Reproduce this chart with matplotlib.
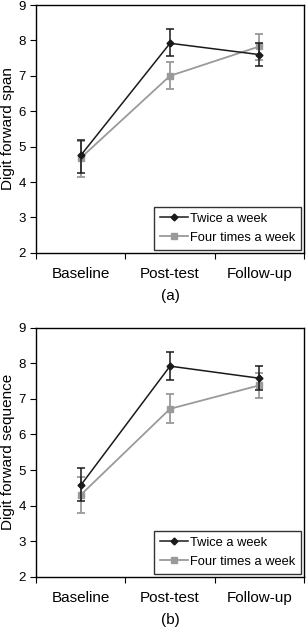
import matplotlib
matplotlib.use('Agg')
import matplotlib.pyplot as plt
from matplotlib.lines import Line2D
import numpy as np

plt.rcParams['font.family'] = ['Liberation Sans', 'DejaVu Sans']

phases = ['Baseline', 'Post-test', 'Follow-up']

# panel (a): digit forward span
span_twice = [4.75, 7.92, 7.60]
span_twice_lo = [4.25, 7.57, 7.27]
span_twice_hi = [5.20, 8.32, 7.93]
span_four = [4.68, 7.00, 7.83]
span_four_lo = [4.15, 6.63, 7.45]
span_four_hi = [5.15, 7.40, 8.17]

# panel (b): digit forward sequence
seq_twice = [4.57, 7.92, 7.58]
seq_twice_lo = [4.12, 7.53, 7.25]
seq_twice_hi = [5.05, 8.32, 7.92]
seq_four = [4.30, 6.72, 7.38]
seq_four_lo = [3.80, 6.32, 7.03]
seq_four_hi = [4.80, 7.13, 7.72]

BLACK = '#1a1a1a'
GREY = '#9a9a9a'

fig = plt.figure(figsize=(3.08, 6.29), dpi=100)
ax_a = fig.add_axes([0.117, 0.598, 0.870, 0.394])
ax_b = fig.add_axes([0.117, 0.083, 0.870, 0.396])


def draw(ax, tw, tw_lo, tw_hi, fo, fo_lo, fo_hi, ylabel, tag):
    x = np.arange(len(phases))
    tw = np.array(tw)
    fo = np.array(fo)
    err_t = [tw - np.array(tw_lo), np.array(tw_hi) - tw]
    err_f = [fo - np.array(fo_lo), np.array(fo_hi) - fo]
    ax.errorbar(x, fo, yerr=err_f, color=GREY, marker='s', markersize=5,
                linewidth=1.3, capsize=3, elinewidth=1.3, capthick=1.3, zorder=2)
    ax.errorbar(x, tw, yerr=err_t, color=BLACK, marker='D', markersize=3.5,
                linewidth=1.1, capsize=3, elinewidth=1.1, capthick=1.1, zorder=3)
    ax.set_xlim(-0.5, 2.5)
    ax.set_ylim(2, 9)
    ax.set_yticks(range(2, 10))
    ax.set_xticks([-0.5, 0.5, 1.5, 2.5])
    ax.set_xticklabels([])
    ax.set_xticks(x, minor=True)
    ax.set_xticklabels(phases, minor=True, fontsize=11)
    ax.tick_params(axis='x', which='minor', length=0, pad=10)
    ax.tick_params(axis='x', which='major', direction='out', length=4)
    ax.tick_params(axis='y', direction='out', length=4, labelsize=9.5)
    ax.set_ylabel(ylabel, fontsize=11, labelpad=2)
    ax.set_xlabel(tag, fontsize=11, labelpad=6)
    for s in ax.spines.values():
        s.set_color('black')
        s.set_linewidth(1.0)
    handles = [Line2D([], [], color=BLACK, marker='D', markersize=3.5, linewidth=1.1),
               Line2D([], [], color=GREY, marker='s', markersize=5, linewidth=1.3)]
    leg = ax.legend(handles, ['Twice a week', 'Four times a week'], loc='lower right',
                    fontsize=9.3, frameon=True, fancybox=False, edgecolor='black',
                    handlelength=2.2, handletextpad=0.1, borderaxespad=0.25,
                    borderpad=0.45, labelspacing=0.55)
    leg.get_frame().set_linewidth(1.0)


draw(ax_a, span_twice, span_twice_lo, span_twice_hi,
     span_four, span_four_lo, span_four_hi, 'Digit forward span', '(a)')
draw(ax_b, seq_twice, seq_twice_lo, seq_twice_hi,
     seq_four, seq_four_lo, seq_four_hi, 'Digit forward sequence', '(b)')

fig.savefig('out.png', dpi=100)
